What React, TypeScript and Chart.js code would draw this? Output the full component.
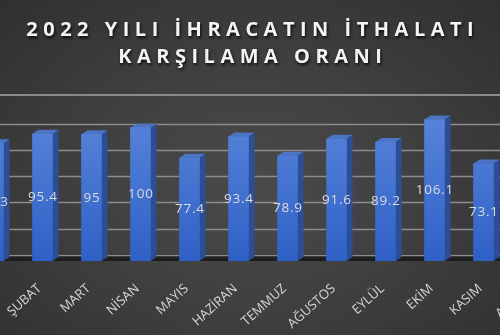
import React, { useEffect, useRef } from "react";
import { Chart, registerables } from "chart.js";

Chart.register(...registerables);

const titleLines = ["2022 YILI İHRACATIN İTHALATI", "KARŞILAMA ORANI"];
const months = ["OCAK", "ŞUBAT", "MART", "NİSAN", "MAYIS", "HAZİRAN", "TEMMUZ", "AĞUSTOS", "EYLÜL", "EKİM", "KASIM", "ARALIK"];
const ratios = [88.3, 95.4, 95, 100, 77.4, 93.4, 78.9, 91.6, 89.2, 106.1, 73.1, 81.3];
const gridValues = [0, 20, 40, 60, 80, 100];

const DX = 6;
const DY = -4;

const threeD = {
  id: "threeD",
  beforeDatasetsDraw(chart: any) {
    const { ctx } = chart;
    const y = chart.scales.y;
    ctx.save();
    const base = y.getPixelForValue(0);
    const fg = ctx.createLinearGradient(0, base - 8, 0, base);
    fg.addColorStop(0, "#2a2a2a");
    fg.addColorStop(1, "#1a1a1a");
    ctx.fillStyle = fg;
    ctx.fillRect(0, base - 7, chart.width, 7);
    ctx.strokeStyle = "#8c8c8c";
    ctx.lineWidth = 1.5;
    gridValues.forEach((v) => {
      const py = Math.round(y.getPixelForValue(v) * 0.985 + 3.4 - 7) + 0.5;
      ctx.beginPath();
      ctx.moveTo(0, py);
      ctx.lineTo(chart.width, py);
      ctx.stroke();
    });
    const meta = chart.getDatasetMeta(0);
    meta.data.forEach((bar: any) => {
      const w = bar.width;
      const l = bar.x - w / 2;
      const r = bar.x + w / 2;
      ctx.fillStyle = "#2b4e96";
      ctx.beginPath();
      ctx.moveTo(r, bar.y);
      ctx.lineTo(r + DX, bar.y + DY);
      ctx.lineTo(r + DX, bar.base + DY);
      ctx.lineTo(r, bar.base);
      ctx.closePath();
      ctx.fill();
      ctx.fillStyle = "#4c74c4";
      ctx.beginPath();
      ctx.moveTo(l, bar.y);
      ctx.lineTo(l + DX, bar.y + DY);
      ctx.lineTo(r + DX, bar.y + DY);
      ctx.lineTo(r, bar.y);
      ctx.closePath();
      ctx.fill();
    });
    ctx.restore();
  },
  afterDatasetsDraw(chart: any) {
    const { ctx } = chart;
    const meta = chart.getDatasetMeta(0);
    ctx.save();
    ctx.font = "13.5px 'Open Sans', sans-serif";
    (ctx as any).letterSpacing = "0.8px";
    ctx.fillStyle = "#dcdcdc";
    ctx.textAlign = "center";
    ctx.textBaseline = "middle";
    meta.data.forEach((bar: any, i: number) => {
      ctx.fillText(String(ratios[i]), bar.x + 0.4, (bar.y + bar.base) / 2);
    });
    ctx.restore();
  },
};

export default function App() {
  const ref = useRef<HTMLCanvasElement>(null);
  useEffect(() => {
    if (!ref.current) return;
    const chart = new Chart(ref.current, {
      type: "bar",
      data: {
        labels: months,
        datasets: [
          {
            data: ratios,
            barThickness: 20,
            borderWidth: 0,
            backgroundColor: (c: any) => {
              const ch = c.chart;
              const area = ch.chartArea;
              if (!area) return "#3d6fd2";
              const g = ch.ctx.createLinearGradient(0, area.top, 0, area.bottom);
              g.addColorStop(0, "#5b88dc");
              g.addColorStop(1, "#2f60c6");
              return g;
            },
          },
        ],
      },
      options: {
        animation: false,
        responsive: false,
        maintainAspectRatio: false,
        layout: { padding: { top: 6, left: 0, right: 0, bottom: 0 } },
        plugins: { legend: { display: false }, tooltip: { enabled: false }, title: { display: false } },
        scales: {
          x: {
            offset: true,
            grid: { display: false, drawTicks: false },
            border: { display: false },
            ticks: {
              color: "#d6d6d6",
              font: { size: 13, family: "'Open Sans', sans-serif" },
              minRotation: 42,
              maxRotation: 42,
              padding: 20,
              labelOffset: -3,
              autoSkip: false,
            },
            afterFit: (s: any) => {
              s.height = 74;
              s.paddingLeft = 0;
              s.paddingRight = 0;
            },
          },
          y: {
            display: false,
            min: 0,
            max: 120,
          },
        },
      },
      plugins: [threeD],
    });
    return () => chart.destroy();
  }, []);

  return (
    <div
      style={{
        position: "fixed",
        left: 0,
        top: 0,
        width: 500,
        height: 335,
        overflow: "hidden",
        background: "radial-gradient(ellipse at 50% 55%, #4a4a4a 0%, #404040 45%, #303030 100%)",
        fontFamily: "'Open Sans', sans-serif",
      }}
    >
      {titleLines.map((t, i) => (
        <div
          key={i}
          style={{
            position: "absolute",
            left: 0,
            width: 500,
            top: 16 + i * 27,
            textAlign: "center",
            color: "#f4f4f4",
            fontWeight: 700,
            fontSize: 20,
            lineHeight: "26px",
            letterSpacing: 5.5,
            textIndent: 5.5,
            textShadow: "1px 2px 3px rgba(0,0,0,0.8)",
          }}
        >
          {t}
        </div>
      ))}
      <div style={{ position: "absolute", left: 0, top: 94, width: 500, height: 2, background: "#8a8a8a" }} />
      <canvas
        ref={ref}
        width={588}
        height={240}
        style={{ position: "absolute", left: -31, top: 95, width: 588, height: 240 }}
      />
    </div>
  );
}
